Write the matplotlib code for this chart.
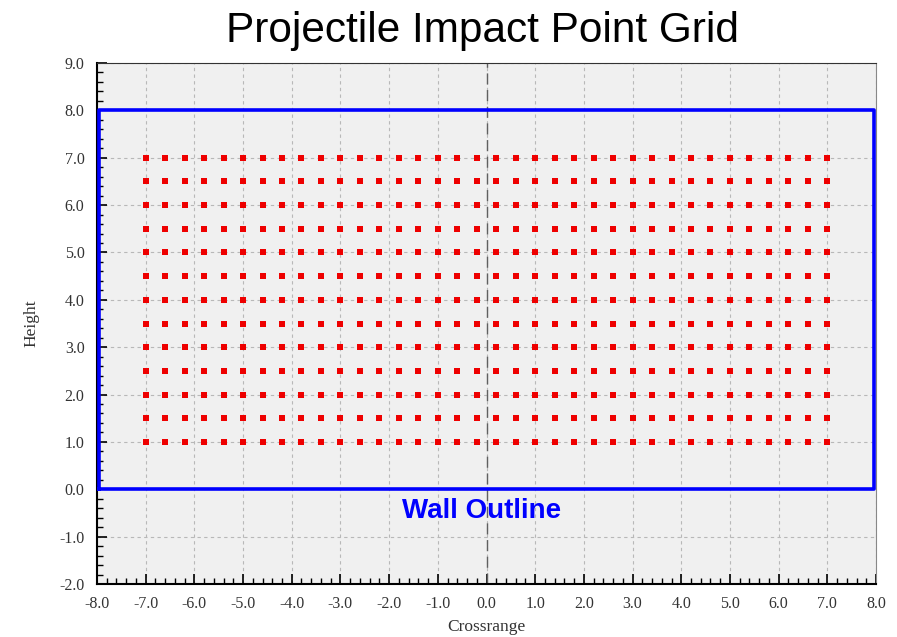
import matplotlib.pyplot as plt
from matplotlib.ticker import MultipleLocator, FormatStrFormatter
import numpy as np

# impact grid: crossrange columns and height rows
cross_vals = [-7.0, -6.6, -6.2, -5.8, -5.4, -5.0, -4.6, -4.2, -3.8, -3.4, -3.0, -2.6,
              -2.2, -1.8, -1.4, -1.0, -0.6, -0.2, 0.2, 0.6, 1.0, 1.4, 1.8, 2.2,
              2.6, 3.0, 3.4, 3.8, 4.2, 4.6, 5.0, 5.4, 5.8, 6.2, 6.6, 7.0]
height_vals = [1.0, 1.5, 2.0, 2.5, 3.0, 3.5, 4.0, 4.5, 5.0, 5.5, 6.0, 6.5, 7.0]

# wall outline corners
wall_x = [-7.95, 7.95, 7.95, -7.95, -7.95]
wall_y = [0.0, 0.0, 8.0, 8.0, 0.0]

xx, yy = np.meshgrid(cross_vals, height_vals)

fig = plt.figure(figsize=(8.97, 6.37), dpi=100)
ax = fig.add_axes([97 / 897, 1 - 584 / 637, 779 / 897, 521 / 637])
ax.set_facecolor('#f0f0f0')

ax.set_xlim(-8, 8)
ax.set_ylim(-2, 9)

ax.grid(True, which='major', color='#b8b8b8', linestyle=(0, (3, 3)), linewidth=0.8)
ax.axvline(0, color='#606060', linestyle=(0, (8, 4)), linewidth=1.0)

ax.plot(wall_x, wall_y, color='#0000ff', linewidth=2.6, clip_on=False, zorder=3)
ax.scatter(xx.ravel(), yy.ravel(), marker='s', s=16, color='#ee0000', linewidths=0, zorder=4)

ax.text(-0.1, -0.45, 'Wall Outline', color='#0000ff', fontsize=20, fontweight='bold',
        family='Liberation Sans', ha='center', va='center', zorder=5)

ax.xaxis.set_major_locator(MultipleLocator(1.0))
ax.xaxis.set_minor_locator(MultipleLocator(0.2))
ax.yaxis.set_major_locator(MultipleLocator(1.0))
ax.yaxis.set_minor_locator(MultipleLocator(0.2))
ax.xaxis.set_major_formatter(FormatStrFormatter('%.1f'))
ax.yaxis.set_major_formatter(FormatStrFormatter('%.1f'))
ax.tick_params(which='both', direction='in', top=False, right=False, color='black')
ax.tick_params(which='major', length=7, width=1.2, labelsize=11.5, pad=9)
ax.tick_params(which='minor', length=4, width=1.0)
for lbl in ax.get_xticklabels() + ax.get_yticklabels():
    lbl.set_family('Liberation Serif')
    lbl.set_color('#333333')

ax.spines['left'].set_linewidth(1.5)
ax.spines['bottom'].set_linewidth(1.5)
ax.spines['top'].set_color('#333333')
ax.spines['right'].set_color('#888888')

ax.set_xlabel('Crossrange', family='Liberation Serif', fontsize=12.5, color='#333333', labelpad=5)
ax.set_ylabel('Height', family='Liberation Serif', fontsize=12.5, color='#333333', labelpad=14)

fig.suptitle('Projectile Impact Point Grid', family='Liberation Sans', fontsize=30.5,
             x=482 / 897, y=1 - 11 / 637, va='top')

fig.savefig('out.png', dpi=100)
